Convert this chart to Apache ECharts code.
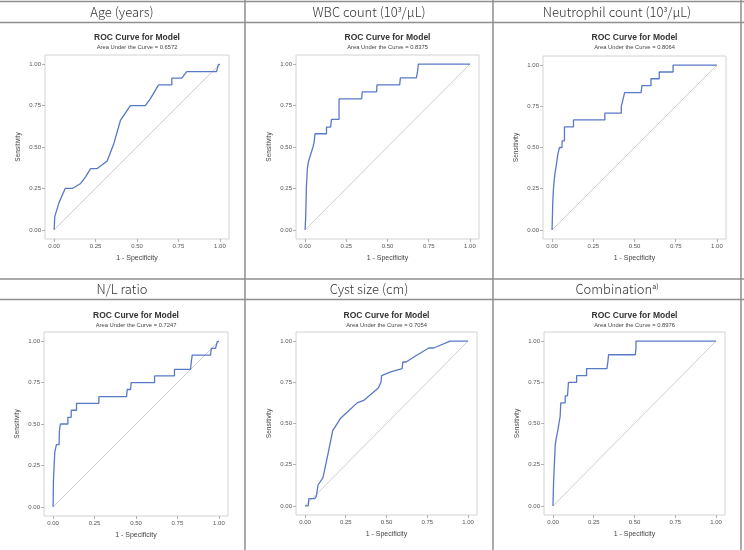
<!DOCTYPE html>
<html>
<head>
<meta charset="utf-8">
<script src="https://cdn.jsdelivr.net/npm/echarts@6/dist/echarts.min.js"></script>
<style>
  html, body { margin: 0; padding: 0; background: #fff; }
  #main { width: 744px; height: 550px; }
</style>
</head>
<body>
<div id="main"></div>
<script>
// panel headers (table cells) and per-panel AUC
var headers = ['Age (years)', 'WBC count (10{sup|3}/μL)', 'Neutrophil count (10{sup|3}/μL)',
               'N/L ratio', 'Cyst size (cm)', 'Combination{sup|a)}'];
var aucs = ['0.6572', '0.8375', '0.8064', '0.7247', '0.7054', '0.8976'];

var tickValues = [0, 0.25, 0.5, 0.75, 1];
var tickLabels = ['0.00', '0.25', '0.50', '0.75', '1.00'];
var diagonal = [[0, 0], [1, 1]];

// ROC curves: x = 1 - specificity, y = sensitivity
var ageX = [0, 0.004, 0.012, 0.03, 0.04, 0.067, 0.11, 0.16, 0.19, 0.22, 0.26, 0.32, 0.36, 0.40, 0.46, 0.55, 0.58, 0.63, 0.71, 0.71, 0.77, 0.80, 0.98, 0.99, 1];
var ageY = [0, 0.08, 0.09, 0.166, 0.17, 0.25, 0.25, 0.28, 0.32, 0.37, 0.37, 0.415, 0.52, 0.66, 0.75, 0.75, 0.79, 0.875, 0.875, 0.915, 0.915, 0.955, 0.955, 0.995, 1];

var wbcX = [0, 0.004, 0.008, 0.014, 0.02, 0.03, 0.034, 0.044, 0.048, 0.055, 0.06, 0.13, 0.13, 0.155, 0.16, 0.206, 0.206, 0.343, 0.347, 0.434, 0.436, 0.574, 0.578, 0.675, 0.683, 0.687, 1];
var wbcY = [0, 0.08, 0.26, 0.37, 0.41, 0.41, 0.455, 0.455, 0.5, 0.53, 0.58, 0.58, 0.62, 0.62, 0.667, 0.667, 0.79, 0.79, 0.833, 0.833, 0.875, 0.875, 0.917, 0.917, 0.96, 1, 1];

var neuX = [0, 0.004, 0.008, 0.012, 0.016, 0.028, 0.028, 0.035, 0.04, 0.045, 0.06, 0.061, 0.075, 0.075, 0.13, 0.13, 0.32, 0.32, 0.42, 0.42, 0.43, 0.44, 0.54, 0.545, 0.6, 0.6, 0.65, 0.65, 0.734, 0.734, 1];
var neuY = [0, 0.16, 0.24, 0.29, 0.33, 0.33, 0.41, 0.46, 0.46, 0.5, 0.5, 0.54, 0.54, 0.625, 0.625, 0.667, 0.667, 0.708, 0.708, 0.75, 0.79, 0.833, 0.833, 0.875, 0.875, 0.917, 0.917, 0.958, 0.958, 1, 1];

var nlX = [0, 0.002, 0.008, 0.01, 0.02, 0.02, 0.036, 0.038, 0.044, 0.044, 0.089, 0.089, 0.109, 0.109, 0.141, 0.141, 0.276, 0.276, 0.443, 0.447, 0.467, 0.471, 0.612, 0.612, 0.732, 0.732, 0.829, 0.833, 0.839, 0.95, 0.954, 0.98, 0.99, 1];
var nlY = [0, 0.16, 0.16, 0.33, 0.33, 0.375, 0.375, 0.46, 0.46, 0.5, 0.5, 0.54, 0.54, 0.583, 0.583, 0.625, 0.625, 0.665, 0.665, 0.708, 0.708, 0.75, 0.75, 0.79, 0.79, 0.83, 0.83, 0.87, 0.916, 0.916, 0.956, 0.956, 0.996, 1];

var cystX = [0, 0.02, 0.024, 0.06, 0.07, 0.08, 0.11, 0.14, 0.17, 0.22, 0.26, 0.32, 0.36, 0.45, 0.466, 0.47, 0.53, 0.596, 0.6, 0.62, 0.69, 0.76, 0.79, 0.89, 1];
var cystY = [0, 0, 0.044, 0.044, 0.06, 0.127, 0.17, 0.31, 0.457, 0.534, 0.57, 0.625, 0.64, 0.716, 0.75, 0.79, 0.815, 0.833, 0.873, 0.873, 0.917, 0.958, 0.958, 1, 1];

var comboX = [0, 0.004, 0.008, 0.014, 0.02, 0.03, 0.03, 0.04, 0.044, 0.048, 0.075, 0.075, 0.089, 0.095, 0.145, 0.145, 0.206, 0.206, 0.331, 0.337, 0.341, 0.505, 0.509, 0.509, 1];
var comboY = [0, 0.15, 0.24, 0.37, 0.41, 0.41, 0.46, 0.46, 0.544, 0.625, 0.625, 0.667, 0.667, 0.75, 0.75, 0.79, 0.79, 0.833, 0.833, 0.877, 0.917, 0.917, 0.958, 1, 1];

var curvesX = [ageX, wbcX, neuX, nlX, cystX, comboX];
var curvesY = [ageY, wbcY, neuY, nlY, cystY, comboY];

// plot frames [left, top, right, bottom] in px
var frames = [
  [45, 55, 229, 239], [296, 55, 479, 239], [543, 56, 726, 239],
  [44, 332, 228, 516], [296, 332, 477, 515], [544, 332, 725, 515]
];
var headerCx = [122, 369, 617, 122, 369, 617];

function zip(xs, ys) {
  return xs.map(function (x, i) { return [x, ys[i]]; });
}

var pad = 0.055;
var grids = [], xAxes = [], yAxes = [], series = [], graphics = [];
var lineColor = '#8e8e8e';

// table lines
[[0, 1.5, 744, 1.5], [0, 22.5, 744, 22.5], [0, 279, 744, 279], [0, 299.5, 744, 299.5],
 [245, 0, 245, 550], [493, 0, 493, 550], [741, 0, 741, 550]].forEach(function (l) {
  graphics.push({ type: 'line', shape: { x1: l[0], y1: l[1], x2: l[2], y2: l[3] },
    style: { stroke: lineColor, lineWidth: 1.5 }, silent: true });
});

function axisCommon(i, name, gap, nameSize) {
  return {
    gridIndex: i, type: 'value', min: -pad, max: 1 + pad,
    axisLine: { show: false, onZero: false }, splitLine: { show: false },
    axisTick: { show: true, customValues: tickValues, length: 3, lineStyle: { color: '#b0b0b0' } },
    axisLabel: { customValues: tickValues, margin: 4, fontSize: 6, color: '#555',
      fontFamily: 'Liberation Sans',
      formatter: function (v) { return tickLabels[tickValues.indexOf(v)]; } },
    name: name, nameLocation: 'middle', nameGap: gap,
    nameTextStyle: { fontSize: nameSize, color: '#444', fontFamily: 'Liberation Sans' }
  };
}

frames.forEach(function (f, i) {
  var row = i < 3 ? 0 : 1;
  var cx = (f[0] + f[2]) / 2;
  grids.push({ left: f[0], top: f[1], width: f[2] - f[0], height: f[3] - f[1],
    show: true, borderColor: '#d2d2d2', borderWidth: 1 });
  xAxes.push(axisCommon(i, '1 - Specificity', 16, 7));
  yAxes.push(axisCommon(i, 'Sensitivity', 23, 6.5));
  series.push({
    type: 'line', xAxisIndex: i, yAxisIndex: i, data: diagonal, showSymbol: false,
    silent: true, lineStyle: { color: '#cfcfcf', width: 1 }, z: 1
  });
  series.push({
    type: 'line', xAxisIndex: i, yAxisIndex: i, data: zip(curvesX[i], curvesY[i]),
    showSymbol: false, silent: true, lineStyle: { color: '#5878c8', width: 1.3 }, z: 2
  });
  // header cell text
  graphics.push({ type: 'text', silent: true, style: {
    text: headers[i], x: headerCx[i], y: row ? 289.5 : 12.5,
    textAlign: 'center', textVerticalAlign: 'middle',
    fontSize: 13, fontFamily: 'Noto Sans CJK KR', fontWeight: 300, fill: '#333',
    rich: { sup: { fontSize: 7, verticalAlign: 'top', fill: '#333', fontFamily: 'Noto Sans CJK KR', padding: [0, 0, 6, 0] } }
  } });
  // plot title + subtitle
  graphics.push({ type: 'text', silent: true, style: {
    text: 'ROC Curve for Model', x: cx, y: row ? 315.5 : 38,
    textAlign: 'center', textVerticalAlign: 'middle',
    fontSize: 8.5, fontWeight: 'bold', fontFamily: 'Liberation Sans', fill: '#333'
  } });
  graphics.push({ type: 'text', silent: true, style: {
    text: 'Area Under the Curve = ' + aucs[i], x: cx, y: row ? 325 : 47.5,
    textAlign: 'center', textVerticalAlign: 'middle',
    fontSize: 5.8, fontFamily: 'Liberation Sans', fill: '#444'
  } });
});

var myChart = echarts.init(document.getElementById('main'));
option = {
  backgroundColor: '#fff',
  animation: false,
  grid: grids,
  xAxis: xAxes,
  yAxis: yAxes,
  series: series,
  graphic: graphics
};
myChart.setOption(option);
</script>
</body>
</html>
